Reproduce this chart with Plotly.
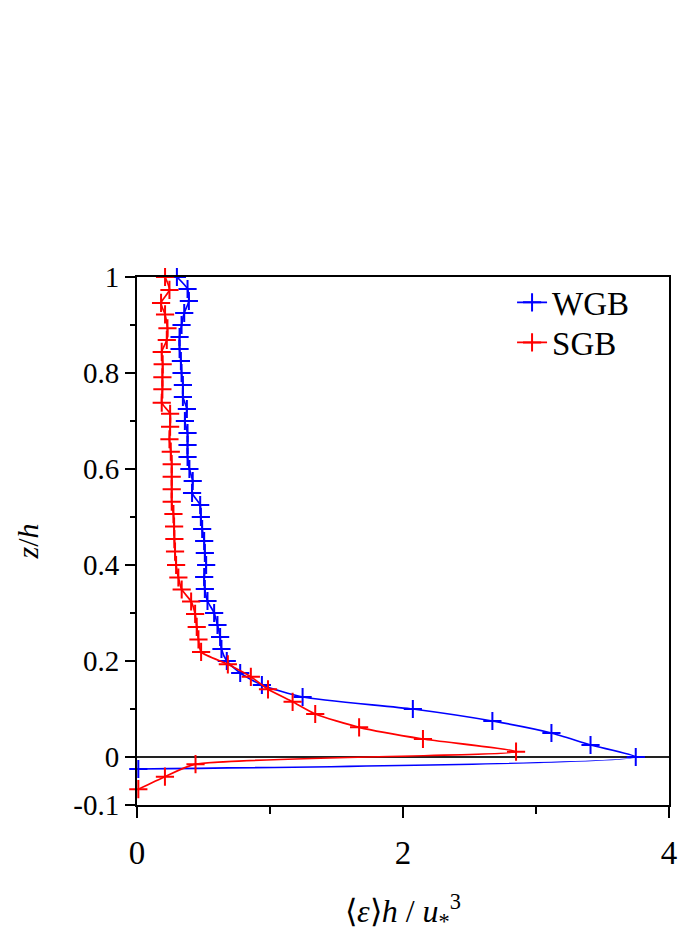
import plotly.graph_objects as go

# Dissipation profiles: <eps> h / u*^3 versus z/h
wgb_z = [1.000, 0.975, 0.950, 0.925, 0.900, 0.875, 0.850, 0.825, 0.800, 0.775,
         0.750, 0.725, 0.700, 0.675, 0.650, 0.625, 0.600, 0.575, 0.550, 0.525,
         0.500, 0.475, 0.450, 0.425, 0.400, 0.375, 0.350, 0.325, 0.300, 0.275,
         0.250, 0.225, 0.200, 0.175, 0.150, 0.125, 0.100, 0.075, 0.050, 0.025,
         0.000, -0.025]
wgb_eps = [0.30, 0.38, 0.39, 0.355, 0.335, 0.32, 0.32, 0.33, 0.335, 0.345,
           0.345, 0.375, 0.36, 0.38, 0.38, 0.38, 0.394, 0.419, 0.414, 0.475,
           0.48, 0.49, 0.505, 0.51, 0.52, 0.505, 0.51, 0.53, 0.58, 0.605,
           0.625, 0.635, 0.675, 0.776, 0.939, 1.245, 2.074, 2.672, 3.116, 3.41,
           3.75, 0.01]

sgb_z = [1.000, 0.973, 0.946, 0.922, 0.893, 0.869, 0.844, 0.818, 0.791, 0.766,
         0.738, 0.715, 0.688, 0.662, 0.636, 0.610, 0.584, 0.558, 0.532, 0.506,
         0.480, 0.454, 0.428, 0.400, 0.374, 0.349, 0.324, 0.298, 0.271, 0.245,
         0.219, 0.193, 0.167, 0.141, 0.115, 0.0896, 0.0618, 0.0375, 0.011, -0.015,
         -0.041, -0.067]
sgb_eps = [0.211, 0.244, 0.181, 0.211, 0.229, 0.224, 0.186, 0.193, 0.191, 0.191,
           0.186, 0.249, 0.249, 0.244, 0.254, 0.261, 0.261, 0.261, 0.261, 0.274,
           0.279, 0.281, 0.286, 0.294, 0.311, 0.336, 0.407, 0.437, 0.449, 0.462,
           0.482, 0.683, 0.856, 0.985, 1.17, 1.34, 1.67, 2.15, 2.85, 0.44,
           0.21, 0.01]

x_ticks = [0, 2, 4]
y_ticks = [-0.1, 0, 0.2, 0.4, 0.6, 0.8, 1.0]
y_tick_text = ["-0.1", "0", "0.2", "0.4", "0.6", "0.8", "1"]

FONT = "Liberation Serif"

fig = go.Figure()
for name, xs, zs, color, leg in [("WGB", wgb_eps, wgb_z, "#0000ff", "legend"),
                                 ("SGB", sgb_eps, sgb_z, "#ff0000", "legend2")]:
    fig.add_trace(go.Scatter(
        x=xs, y=zs, name=name, mode="lines+markers", legend=leg,
        line=dict(color=color, width=1.7, shape="spline", smoothing=0.6),
        marker=dict(symbol="cross-thin", size=13,
                    line=dict(color=color, width=2)),
        cliponaxis=False,
    ))

# horizontal reference line at z/h = 0
fig.add_shape(type="line", xref="paper", yref="y", x0=0, x1=1, y0=0, y1=0,
              line=dict(color="#222222", width=1.8), layer="below")

legend_style = dict(xanchor="left", yanchor="top", bgcolor="rgba(0,0,0,0)",
                    font=dict(size=33, family=FONT), itemwidth=30)

fig.update_layout(
    width=679, height=937,
    margin=dict(l=137, r=10, t=277, b=132),
    paper_bgcolor="white", plot_bgcolor="white",
    font=dict(family=FONT, color="black", size=28),
    showlegend=True,
    legend=dict(x=0.705, y=1.005, **legend_style),
    legend2=dict(x=0.705, y=0.929, **legend_style),
)
fig.update_xaxes(
    range=[0, 4], tickvals=x_ticks, ticks="outside", ticklen=11,
    tickwidth=2, tickcolor="black", automargin=False, ticklabelstandoff=6,
    minor=dict(tickvals=[1, 3], ticks="outside", ticklen=7, tickwidth=2,
               tickcolor="black"),
    showline=True, linecolor="black", linewidth=2, mirror=True,
    showgrid=False, zeroline=False,
    tickfont=dict(size=33, family=FONT, color="black"),
    title=dict(text="⟨<i>ε</i>⟩<i>h</i> / <i>u</i><sub>*</sub><sup>3</sup>",
               font=dict(size=32, family=FONT), standoff=30),
)
fig.update_yaxes(
    range=[-0.1, 1.0], tickvals=y_ticks, ticktext=y_tick_text,
    ticks="outside", ticklen=10, tickwidth=2, tickcolor="black",
    automargin=False,
    minor=dict(tickvals=[0.1, 0.3, 0.5, 0.7, 0.9], ticks="outside",
               ticklen=5, tickwidth=2, tickcolor="black"),
    showline=True, linecolor="black", linewidth=2, mirror=True,
    showgrid=False, zeroline=False,
    tickfont=dict(size=29, family=FONT, color="black"),
    title=dict(text="<i>z</i>/<i>h</i>", font=dict(size=30, family=FONT),
               standoff=26),
)

fig.write_html("out.html")
